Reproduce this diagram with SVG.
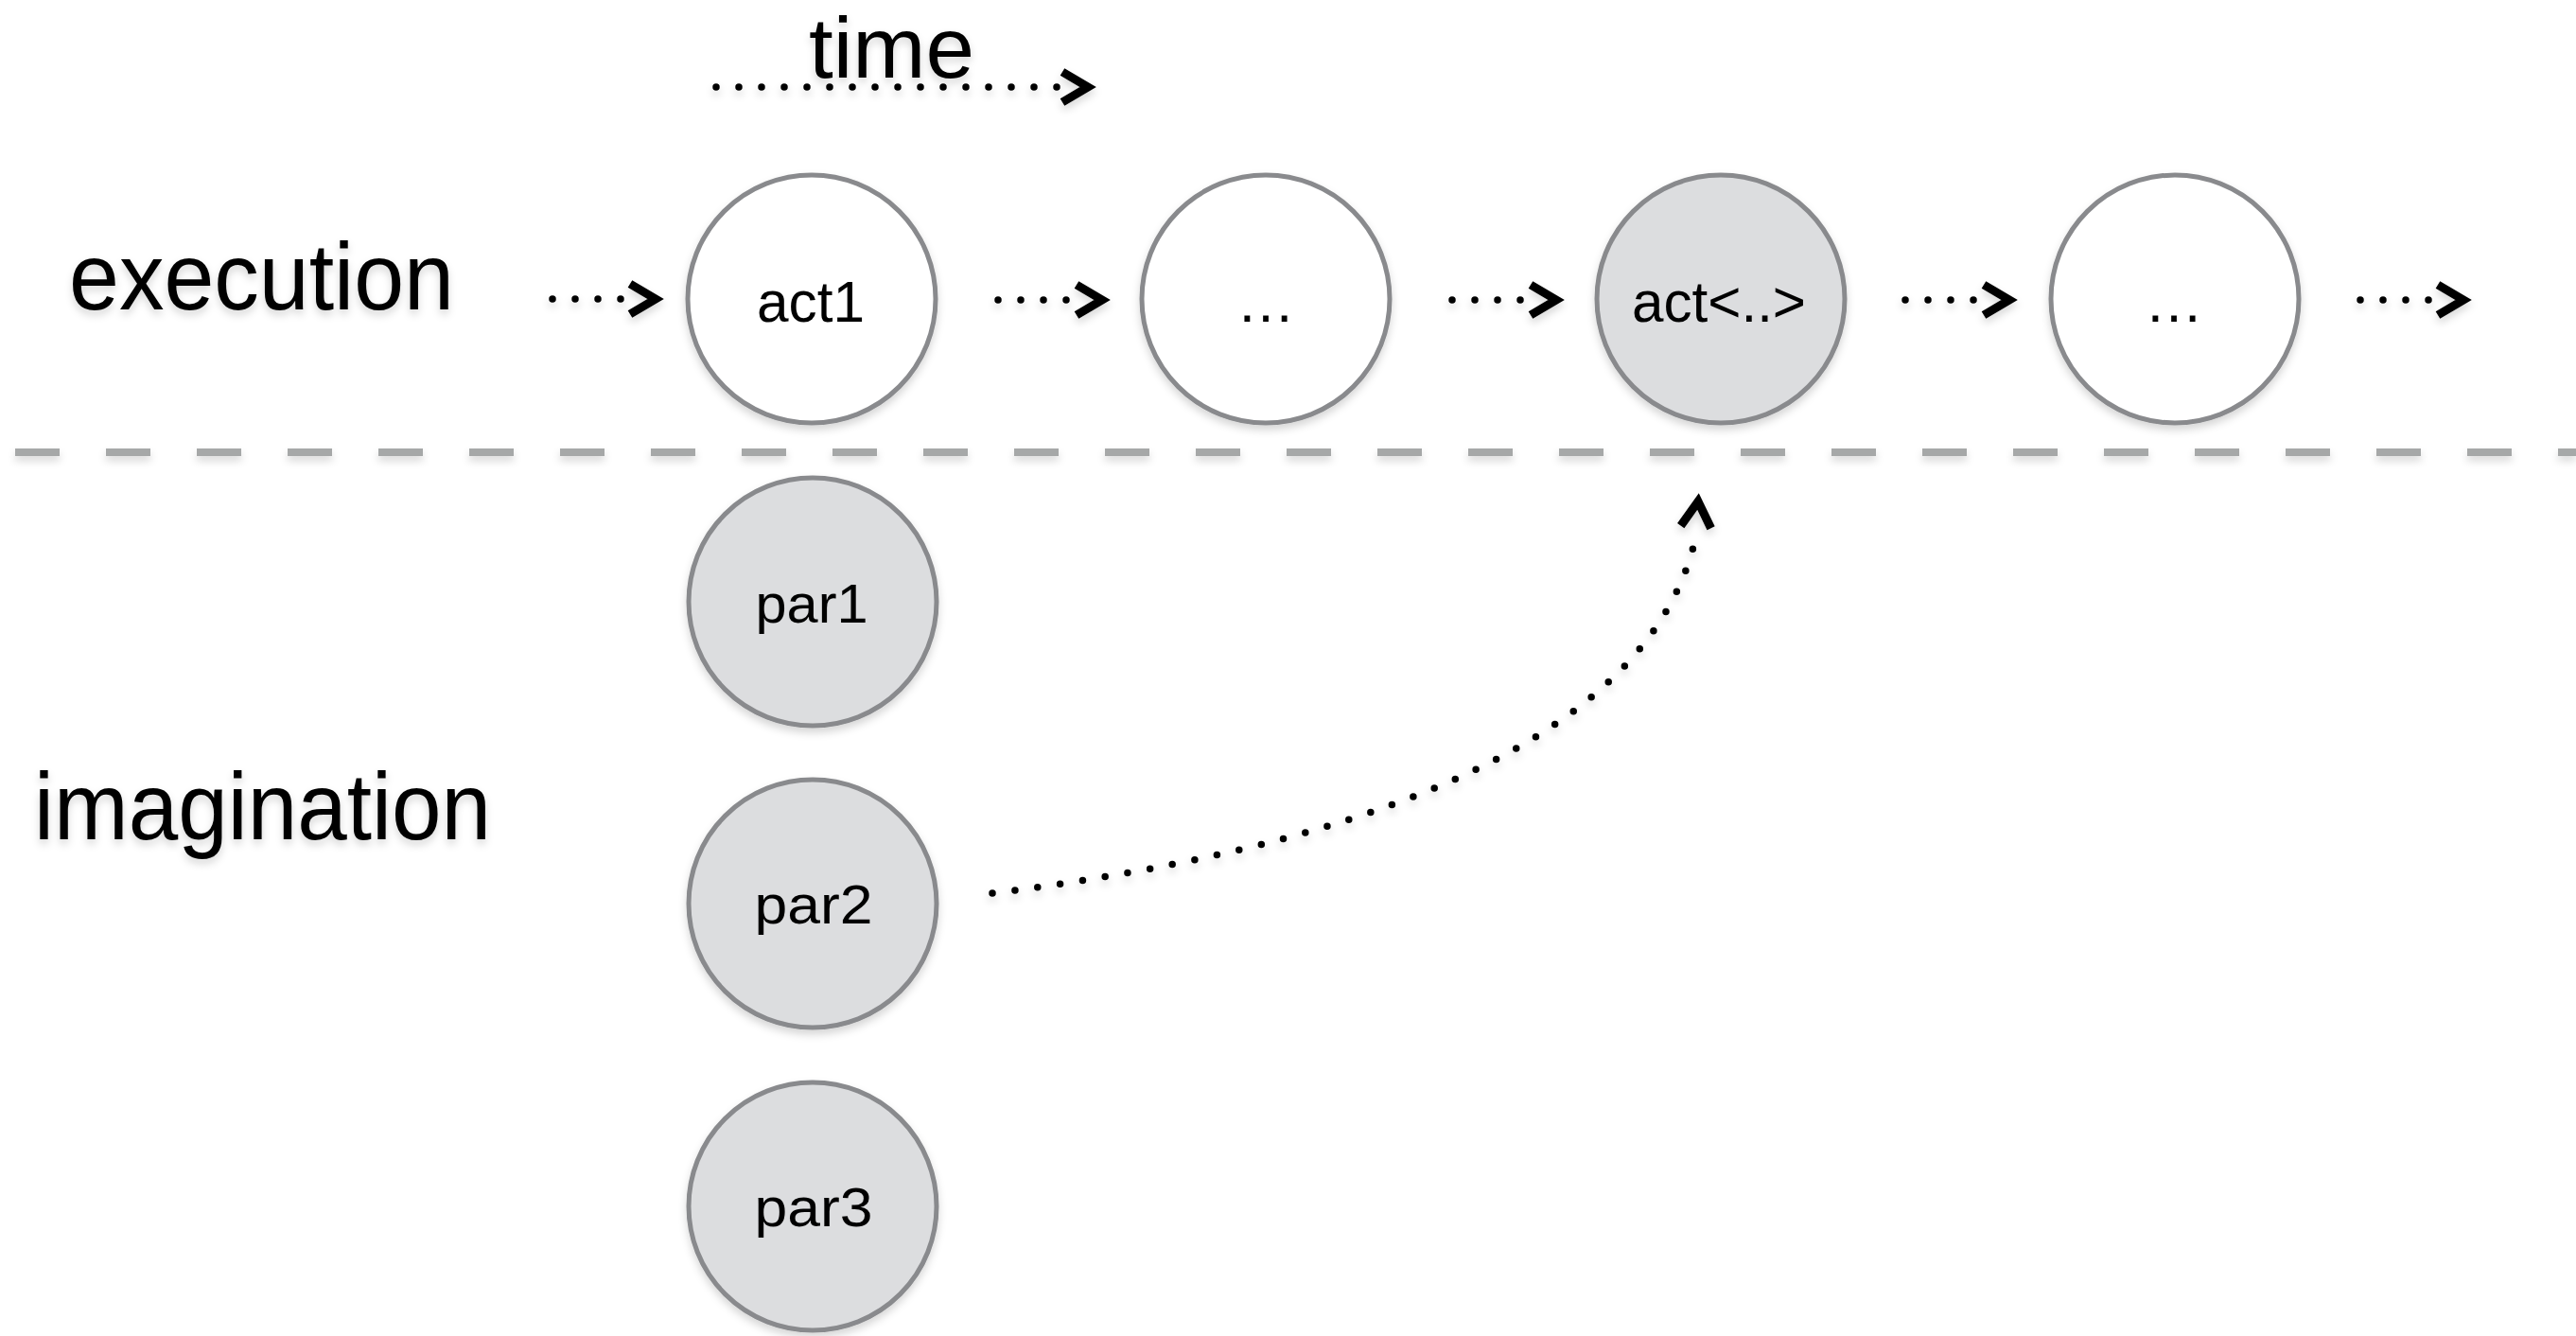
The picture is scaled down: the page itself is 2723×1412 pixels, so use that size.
<svg xmlns="http://www.w3.org/2000/svg" xmlns:xlink="http://www.w3.org/1999/xlink" width="2723" height="1412" viewBox="0 0 2723 1412">
  <defs>
    <filter id="shadow" x="-20%" y="-20%" width="140%" height="160%">
      <feDropShadow dx="0" dy="5" stdDeviation="4" flood-color="#000" flood-opacity="0.16"/>
    </filter>
    <!-- open chevron arrowhead, pointing along +x, point at origin -->
    <path id="chev" d="M-27,-16 L0,0 L-27,16" fill="none" stroke="#000" stroke-width="9" stroke-linejoin="miter" stroke-miterlimit="10"/>
  </defs>
  <style>
    text { font-family: "Liberation Sans", Arial, sans-serif; fill: #000; }
    .label { font-size: 100px; }
    .node circle { stroke: #898a8d; stroke-width: 5; }
    .white { fill: #ffffff; }
    .grey { fill: #dcdddf; }
    .act { font-size: 62px; text-anchor: middle; }
    .par { font-size: 58px; text-anchor: middle; }
    .dots { fill: none; stroke: #000; stroke-width: 7.5; stroke-linecap: round; stroke-dasharray: 0 24; }
    .divider { fill: none; stroke: #a6a8a8; stroke-width: 8; stroke-dasharray: 47 49; }
  </style>

  <rect x="0" y="0" width="2723" height="1412" fill="#ffffff"/>

  <g filter="url(#shadow)">
    <!-- row labels -->
    <g id="labels">
      <text class="label" x="855" y="82" font-size="90" textLength="175" lengthAdjust="spacingAndGlyphs" style="font-size:90px">time</text>
      <text class="label" x="73" y="327" textLength="407" lengthAdjust="spacingAndGlyphs">execution</text>
      <text class="label" x="36" y="887" textLength="483" lengthAdjust="spacingAndGlyphs">imagination</text>
    </g>

    <!-- boundary between execution and imagination -->
    <line class="divider" x1="16" y1="478" x2="2723" y2="478"/>

    <!-- execution row -->
    <g id="act1" class="node">
      <circle class="white" cx="858" cy="316" r="131"/>
      <text class="act" x="857" y="340" textLength="114" lengthAdjust="spacingAndGlyphs">act1</text>
    </g>
    <g id="exec2" class="node">
      <circle class="white" cx="1338" cy="316" r="131"/>
      <text class="act" x="1338" y="340" font-size="56">…</text>
    </g>
    <g id="actx" class="node">
      <circle class="grey" cx="1819" cy="316" r="131"/>
      <text class="act" x="1817" y="340" textLength="184" lengthAdjust="spacingAndGlyphs">act&lt;..&gt;</text>
    </g>
    <g id="exec4" class="node">
      <circle class="white" cx="2299" cy="316" r="131"/>
      <text class="act" x="2298" y="340" font-size="56">…</text>
    </g>

    <!-- imagination column -->
    <g id="par1" class="node">
      <circle class="grey" cx="859" cy="636" r="131"/>
      <text class="par" x="858" y="658" textLength="119" lengthAdjust="spacingAndGlyphs">par1</text>
    </g>
    <g id="par2" class="node">
      <circle class="grey" cx="859" cy="955" r="131"/>
      <text class="par" x="860" y="976" textLength="125" lengthAdjust="spacingAndGlyphs">par2</text>
    </g>
    <g id="par3" class="node">
      <circle class="grey" cx="859" cy="1275" r="131"/>
      <text class="par" x="860" y="1296" textLength="125" lengthAdjust="spacingAndGlyphs">par3</text>
    </g>

    <!-- dotted connectors -->
    <g id="connectors">
      <line class="dots" x1="757" y1="92" x2="1117.5" y2="92"/>
      <use xlink:href="#chev" transform="translate(1150,92)"/>

      <line class="dots" x1="584" y1="316" x2="656.5" y2="316"/>
      <use xlink:href="#chev" transform="translate(693,316)"/>

      <line class="dots" x1="1055" y1="317" x2="1127.5" y2="317"/>
      <use xlink:href="#chev" transform="translate(1165,317)"/>

      <line class="dots" x1="1535" y1="317" x2="1607.5" y2="317"/>
      <use xlink:href="#chev" transform="translate(1645,317)"/>

      <line class="dots" x1="2014" y1="317" x2="2086.5" y2="317"/>
      <use xlink:href="#chev" transform="translate(2124,317)"/>

      <line class="dots" x1="2495" y1="317" x2="2567.5" y2="317"/>
      <use xlink:href="#chev" transform="translate(2604,317)"/>

      <!-- par2 feeds act<..> -->
      <path class="dots" d="M1049,944 C1400,900 1730,800 1790,578" pathLength="36.1" style="stroke-dasharray:0 1"/>
      <use xlink:href="#chev" transform="translate(1795,530) rotate(-85)"/>
    </g>
  </g>
</svg>
